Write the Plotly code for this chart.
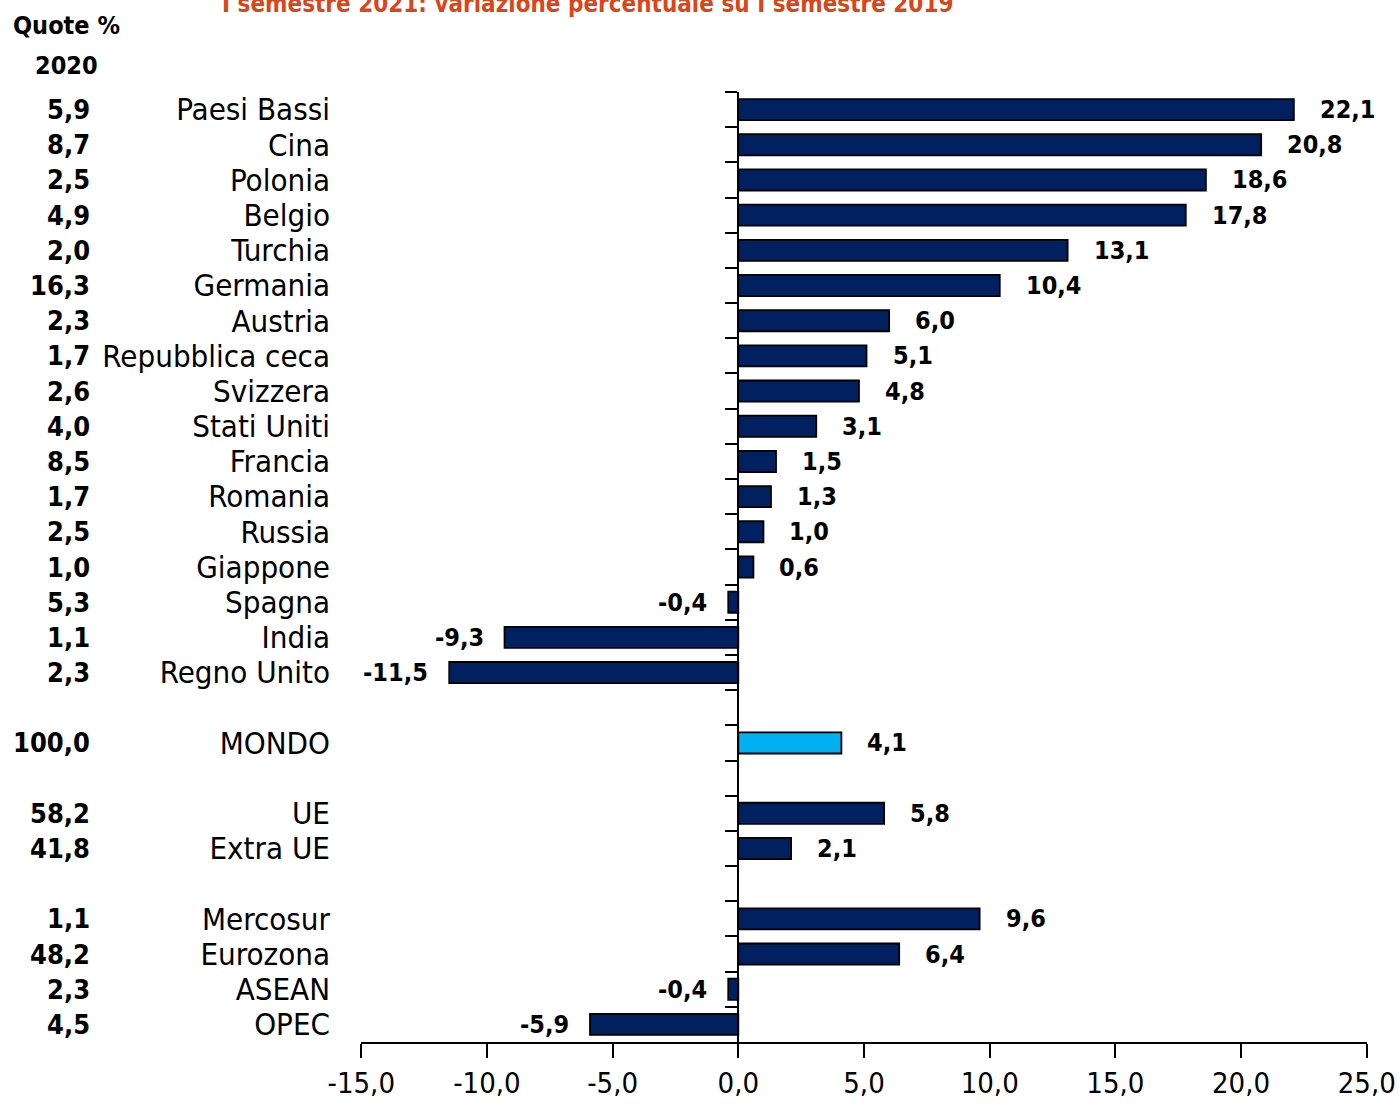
import plotly.graph_objects as go

# categories top -> bottom (blank slots keep the gaps between groups)
paesi = ["Paesi Bassi", "Cina", "Polonia", "Belgio", "Turchia", "Germania", "Austria",
         "Repubblica ceca", "Svizzera", "Stati Uniti", "Francia", "Romania", "Russia",
         "Giappone", "Spagna", "India", "Regno Unito", " ", "MONDO", "  ", "UE", "Extra UE",
         "   ", "Mercosur", "Eurozona", "ASEAN", "OPEC"]
variazioni = [22.1, 20.8, 18.6, 17.8, 13.1, 10.4, 6.0, 5.1, 4.8, 3.1, 1.5, 1.3, 1.0,
              0.6, -0.4, -9.3, -11.5, None, 4.1, None, 5.8, 2.1,
              None, 9.6, 6.4, -0.4, -5.9]
quote_2020 = [5.9, 8.7, 2.5, 4.9, 2.0, 16.3, 2.3, 1.7, 2.6, 4.0, 8.5, 1.7, 2.5,
              1.0, 5.3, 1.1, 2.3, None, 100.0, None, 58.2, 41.8,
              None, 1.1, 48.2, 2.3, 4.5]
x_ticks = [-15, -10, -5, 0, 5, 10, 15, 20, 25]

NAVY = "#002060"
SKY = "#00B0F0"
FONT = "Liberation Sans Narrow, Arial Narrow, DejaVu Sans Condensed, sans-serif"


def fmt(v):
    return f"{v:.1f}".replace(".", ",")


colors = [SKY if c == "MONDO" else NAVY for c in paesi]

fig = go.Figure()
fig.add_trace(go.Bar(
    x=variazioni, y=paesi, orientation="h", width=0.6,
    marker=dict(color=colors, line=dict(color="black", width=1.8)),
    hoverinfo="skip", showlegend=False))
# invisible trace so the axis at zero gets the same categories
fig.add_trace(go.Scatter(
    x=[0] * len(paesi), y=paesi, yaxis="y2", mode="markers",
    marker=dict(opacity=0), hoverinfo="skip", showlegend=False))

annotations = []
for cat, v, q in zip(paesi, variazioni, quote_2020):
    if v is not None:
        annotations.append(dict(
            x=v, y=cat, xref="x", yref="y", text=fmt(v), showarrow=False,
            xanchor="left" if v >= 0 else "right", xshift=24 if v >= 0 else -19,
            font=dict(family=FONT, size=25, color="black", weight="bold")))
    if q is not None:
        annotations.append(dict(
            x=0, y=cat, xref="paper", yref="y", text=fmt(q), showarrow=False,
            xanchor="right", xshift=-269,
            font=dict(family=FONT, size=27, color="black", weight="bold")))

annotations += [
    dict(x=-0.2932, y=1.0695, xref="paper", yref="paper", text="Quote %", showarrow=False,
         xanchor="center", yanchor="middle",
         font=dict(family=FONT, size=25, color="black", weight="bold")),
    dict(x=-0.2932, y=1.0284, xref="paper", yref="paper", text="2020", showarrow=False,
         xanchor="center", yanchor="middle",
         font=dict(family=FONT, size=25, color="black", weight="bold")),
    dict(x=0.2247, y=1.093, xref="paper", yref="paper",
         text="I semestre 2021: variazione percentuale su I semestre 2019", showarrow=False,
         xanchor="center", yanchor="middle",
         font=dict(family=FONT, size=24, color="#D9461A", weight="bold")),
]

y_range = [len(paesi) - 0.5, -0.5]

fig.update_layout(
    width=1400, height=1104,
    margin=dict(l=361, r=33, t=92, b=62, autoexpand=False),
    plot_bgcolor="white", paper_bgcolor="white",
    barmode="overlay",
    font=dict(family=FONT, size=31, color="black"),
    annotations=annotations,
    xaxis=dict(range=[-15.01, 25.01], tickvals=x_ticks, ticktext=[fmt(t) for t in x_ticks],
               showgrid=False, zeroline=False, showline=True, linecolor="black", linewidth=2,
               ticks="outside", ticklen=14, tickwidth=2, tickcolor="black", automargin=False,
               tickfont=dict(family=FONT, size=29, color="black")),
    yaxis=dict(type="category", categoryarray=paesi, range=y_range, dtick=1,
               showgrid=False, zeroline=False, showline=False, ticks="",
               ticklabelstandoff=30, automargin=False,
               tickfont=dict(family=FONT, size=31, color="black")),
    yaxis2=dict(type="category", categoryarray=paesi, range=y_range, overlaying="y",
                anchor="free", position=15 / 40, side="left", dtick=1,
                showgrid=False, zeroline=False, showline=True, linecolor="black", linewidth=2,
                ticks="outside", tickson="boundaries", ticklen=12, tickwidth=2,
                tickcolor="black", showticklabels=False, automargin=False),
)

# drop the default page margin so the figure sits at the window's corner
fig.write_html("out.html", config={"displayModeBar": False},
               post_script="document.body.style.margin='0';")
